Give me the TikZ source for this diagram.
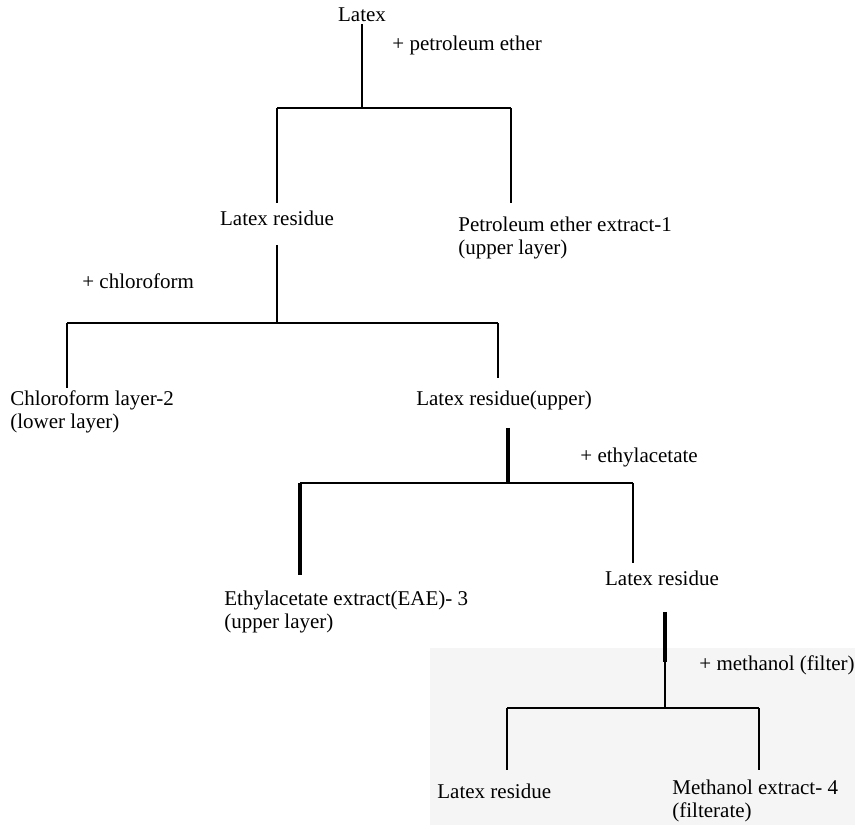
\documentclass[tikz,border=0pt]{standalone}
\usepackage{fontspec}
\setmainfont{Liberation Serif}
\usepackage{tikz}

\begin{document}
\begin{tikzpicture}[x=0.5pt, y=-0.5pt,
  stage/.style={inner sep=1pt, font=\fontsize{10.5}{11.5}\selectfont},
  reagent/.style={anchor=west, inner sep=1pt, font=\fontsize{10.5}{11.5}\selectfont},
  bar/.style={black, line width=1pt},
  heavy/.style={black, line width=1.6pt}]

\useasboundingbox (0,0) rectangle (855,825);
\fill[black!4] (430,648) rectangle (855,825);

% stages of the fractionation
\path
(362,15)  node[stage](latex) {Latex}
(277,218) node[stage](res1) {Latex residue}
(456,238) node[stage, anchor=west, align=left](pe1) {Petroleum ether extract-1\\(upper layer)}
(8,412)   node[stage, anchor=west, align=left](cl2) {Chloroform layer-2\\(lower layer)}
(504,400) node[stage](res2) {Latex residue(upper)}
(222,612) node[stage, anchor=west, align=left](eae) {Ethylacetate extract(EAE)- 3\\(upper layer)}
(662,578) node[stage](res3) {Latex residue}
(435,791) node[stage, anchor=west](res4) {Latex residue}
(670,801) node[stage, anchor=west, align=left](me4) {Methanol extract- 4\\(filterate)};

% reagents
\node[reagent](pet) at (390,45) {+ petroleum ether};
\node[reagent](chl) at (80,281) {+ chloroform};
\node[reagent](eth) at (578,457) {+ ethylacetate};
\node[reagent](met) at (697,665) {+ methanol (filter)};

%% split 1: petroleum ether
\coordinate (s1) at (362,108);
\coordinate (s1a) at (277,108);
\coordinate (s1b) at (511,108);
\draw[bar] (latex.south) -- (s1);
\draw[bar] (s1a) -- (s1b);
\draw[bar] (s1a) -- ++(0,95) coordinate (e1a);
\draw[bar] (s1b) -- ++(0,95) coordinate (e1b);

%% split 2: chloroform
\coordinate (s2) at (277,323);
\coordinate (s2a) at (67,323);
\coordinate (s2b) at (498,323);
\draw[bar] ([yshift=-8.5pt]res1.south) -- (s2);
\draw[bar] (s2a) -- (s2b);
\draw[bar] (s2a) -- ++(0,65) coordinate (e2a);
\draw[bar] (s2b) -- ++(0,55) coordinate (e2b);

%% split 3: ethylacetate
\coordinate (s3) at (508,483);
\coordinate (s3a) at (300,483);
\coordinate (s3b) at (633,483);
\draw[heavy] ([yshift=-8pt]s3 |- res2.south) -- (s3);
\draw[bar] (s3a) -- (s3b);
\draw[heavy] (s3a) -- ++(0,92) coordinate (e3a);
\draw[bar] (s3b) -- ++(0,80) coordinate (e3b);

%% split 4: methanol
\coordinate (s4) at (665,708);
\coordinate (s4a) at (507,708);
\coordinate (s4b) at (759,708);
\draw[heavy] ([yshift=-12pt]s4 |- res3.south) -- ++(0,50) coordinate (m4);
\draw[bar] (m4) -- (s4);
\draw[bar] (s4a) -- (s4b);
\draw[bar] (s4a) -- ++(0,62) coordinate (e4a);
\draw[bar] (s4b) -- ++(0,62) coordinate (e4b);

\end{tikzpicture}
\end{document}
